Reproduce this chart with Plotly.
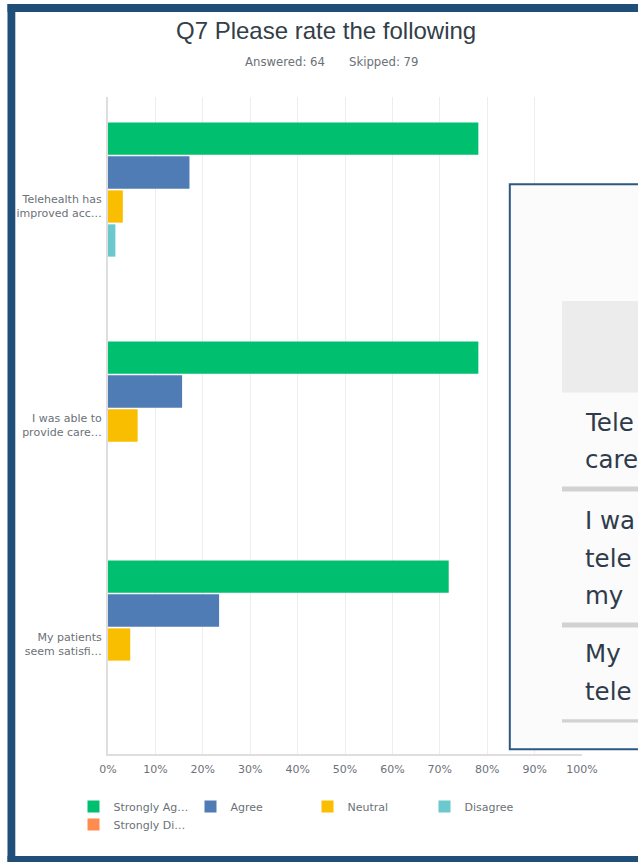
import plotly.graph_objects as go

# ---------------- data ----------------
categories = [
    "Telehealth has<br>improved acc…",
    "I was able to<br>provide care…",
    "My patients<br>seem satisfi…",
]
series_names = ["Strongly Ag…", "Agree", "Neutral", "Disagree", "Strongly Di…"]
strongly_agree = [78.13, 78.13, 71.88]
agree = [17.19, 15.63, 23.44]
neutral = [3.13, 6.25, 4.69]
disagree = [1.56, 0.0, 0.0]
strongly_disagree = [0.0, 0.0, 0.0]
series_values = [strongly_agree, agree, neutral, disagree, strongly_disagree]
series_colors = ["#00bf6f", "#507cb6", "#f9be00", "#6bc8cd", "#ff8b4f"]
series_legend = ["legend", "legend", "legend", "legend", "legend2"]
x_ticks = [0, 10, 20, 30, 40, 50, 60, 70, 80, 90, 100]

title_text = "Q7 Please rate the following"
answered_text = "Answered: 64"
skipped_text = "Skipped: 79"

# visible (cropped) parts of the overlaid table
overlay_lines = [
    ["Tele", "care"],
    ["I wa", "tele", "my"],
    ["My", "tele"],
]

# ---------------- geometry ----------------
W, H = 638, 862
L, R, T, B = 108, 56, 97, 108
PW = W - L - R
PH = H - T - B


def fx(px):
    return (px - L) / PW


def fy(py):
    return (H - B - py) / PH


fig = go.Figure()
for name, vals, col, lg in zip(series_names, series_values, series_colors,
                               series_legend):
    fig.add_trace(go.Bar(
        y=categories, x=vals, name=name, orientation="h",
        marker=dict(color=col, line=dict(width=0)),
        legend=lg, hoverinfo="x+y",
    ))

FONT = "DejaVu Sans, Verdana, sans-serif"
GREY = "#6b7177"

shapes = []
frame_col = "#1f4e78"
shapes.append(dict(type="rect", xref="paper", yref="paper", layer="above",
                   x0=fx(7.5), x1=fx(15.3), y0=fy(4), y1=fy(870),
                   fillcolor=frame_col, line=dict(width=0)))
shapes.append(dict(type="rect", xref="paper", yref="paper", layer="above",
                   x0=fx(7.5), x1=fx(700), y0=fy(4), y1=fy(12),
                   fillcolor=frame_col, line=dict(width=0)))
shapes.append(dict(type="rect", xref="paper", yref="paper", layer="above",
                   x0=fx(7.5), x1=fx(700), y0=fy(856), y1=fy(870),
                   fillcolor=frame_col, line=dict(width=0)))

# overlay box
shapes.append(dict(type="rect", xref="paper", yref="paper", layer="above",
                   x0=fx(509.8), x1=fx(720), y0=fy(184.2), y1=fy(749.3),
                   fillcolor="#fbfbfb", line=dict(color="#2c5884", width=2)))
shapes.append(dict(type="rect", xref="paper", yref="paper", layer="above",
                   x0=fx(562), x1=fx(720), y0=fy(301), y1=fy(392.5),
                   fillcolor="#ebeceb", line=dict(width=0)))
for y0, y1 in [(486.5, 491.5), (622.5, 627.5), (719.3, 722.6)]:
    shapes.append(dict(type="rect", xref="paper", yref="paper", layer="above",
                       x0=fx(562), x1=fx(720), y0=fy(y0), y1=fy(y1),
                       fillcolor="#d2d2d2", line=dict(width=0)))

annotations = []
annotations.append(dict(text=title_text, xref="paper", yref="paper",
                        x=fx(326), y=fy(30), xanchor="center", yanchor="middle",
                        showarrow=False,
                        font=dict(family="Liberation Sans, Arial, sans-serif",
                                  size=24, color="#333e48")))
annotations.append(dict(text=answered_text, xref="paper", yref="paper",
                        x=fx(327), y=fy(62), xanchor="right", yanchor="middle",
                        showarrow=False,
                        font=dict(family=FONT, size=11.7, color=GREY)))
annotations.append(dict(text=skipped_text, xref="paper", yref="paper",
                        x=fx(347), y=fy(62), xanchor="left", yanchor="middle",
                        showarrow=False,
                        font=dict(family=FONT, size=11.7, color=GREY)))

block_baselines = [[430.7, 467.3], [528.5, 566.5, 603.5], [661.7, 699.3]]
for lines, bases in zip(overlay_lines, block_baselines):
    for txt, base in zip(lines, bases):
        annotations.append(dict(text=txt, xref="paper", yref="paper",
                                x=fx(583.5), y=fy(base - 8.2), xanchor="left",
                                yanchor="middle", showarrow=False, borderpad=0,
                                font=dict(family="DejaVu Sans, sans-serif",
                                          size=24.5, color="#2f3b4b")))

legend_common = dict(orientation="h", xanchor="left", yanchor="top",
                     entrywidth=72, entrywidthmode="pixels",
                     font=dict(family=FONT, size=11, color=GREY),
                     traceorder="normal", itemclick=False,
                     itemdoubleclick=False, bgcolor="rgba(0,0,0,0)")

fig.update_layout(
    width=W, height=H,
    margin=dict(l=L, r=R, t=T, b=B, pad=0),
    paper_bgcolor="white", plot_bgcolor="white",
    barmode="group", bargap=0.224, bargroupgap=0.05,
    showlegend=True,
    legend=dict(x=fx(73.5), y=fy(792), **legend_common),
    legend2=dict(x=fx(73.5), y=fy(810), **legend_common),
    xaxis=dict(range=[0, 100], tickvals=x_ticks,
               ticktext=[f"{v}%" for v in x_ticks],
               showgrid=True, gridcolor="#ededed", gridwidth=1,
               zeroline=False, showline=True, linecolor="#dedede", linewidth=2,
               ticks="", ticklabelstandoff=4,
               tickfont=dict(family=FONT, size=11, color=GREY),
               fixedrange=True),
    yaxis=dict(autorange="reversed", showgrid=False, zeroline=False,
               showline=True, linecolor="#dedede", linewidth=2, ticks="",
               ticklabelstandoff=2,
               tickfont=dict(family=FONT, size=11, color=GREY),
               fixedrange=True),
    shapes=shapes, annotations=annotations,
    font=dict(family=FONT),
)

fig.write_html("out.html", config={"displayModeBar": False})
